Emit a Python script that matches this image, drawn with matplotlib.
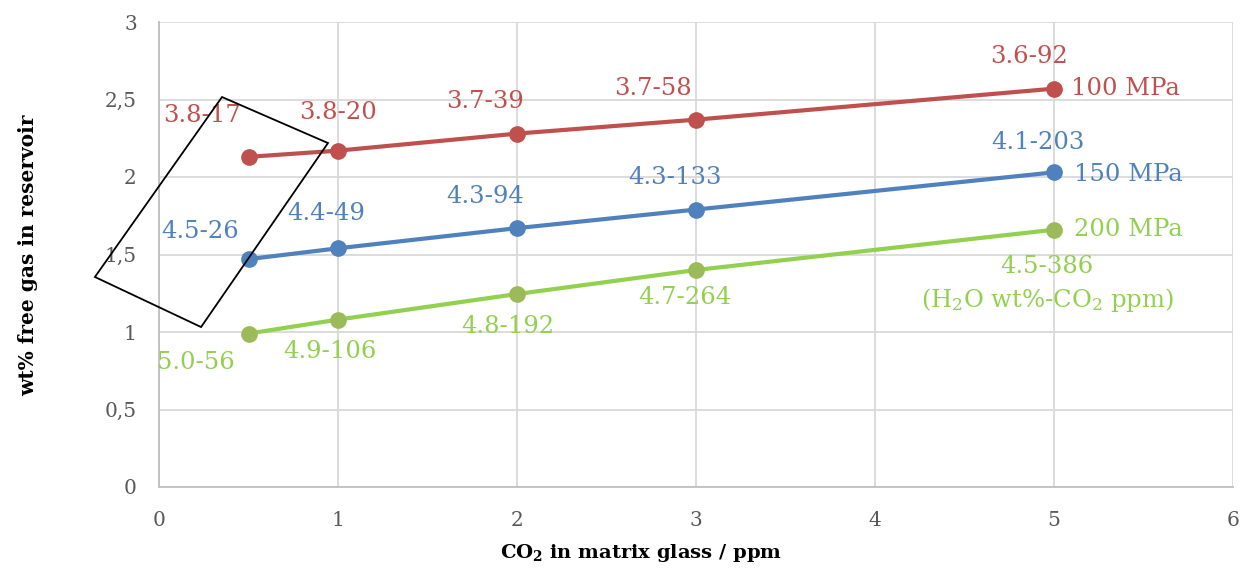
import matplotlib
matplotlib.use("Agg")
import matplotlib.pyplot as plt
from matplotlib.patches import Polygon

plt.rcParams['font.family'] = ['DejaVu Serif']
plt.rcParams['mathtext.fontset'] = 'dejavuserif'

x = [0.5, 1, 2, 3, 5]
y_100 = [2.13, 2.17, 2.28, 2.37, 2.57]
y_150 = [1.47, 1.54, 1.67, 1.79, 2.03]
y_200 = [0.99, 1.08, 1.245, 1.40, 1.66]

lab_100 = ["3.8-17", "3.8-20", "3.7-39", "3.7-58", "3.6-92"]
lab_150 = ["4.5-26", "4.4-49", "4.3-94", "4.3-133", "4.1-203"]
lab_200 = ["5.0-56", "4.9-106", "4.8-192", "4.7-264", "4.5-386"]

series_names = ["100 MPa", "150 MPa", "200 MPa"]
xticks = [0, 1, 2, 3, 4, 5, 6]
yticks = [0, 0.5, 1, 1.5, 2, 2.5, 3]
ytick_labels = ["0", "0,5", "1", "1,5", "2", "2,5", "3"]

# box corners (data coords)
box_x = [0.352, 0.944, 0.235, -0.358]
box_y = [2.516, 2.219, 1.032, 1.355]

RED = "#C0504D"
BLUE = "#4F81BD"
GREEN = "#92D050"
GREEN_M = "#9BBB59"

fig = plt.figure(figsize=(12.47, 5.69), dpi=100)
ax = fig.add_axes([159/1247, 1-487/569, (1233-159)/1247, (487-22)/569])
ax.set_xlim(0, 6)
ax.set_ylim(0, 3)

ax.grid(True, color="#D9D9D9", linewidth=1.3)
ax.set_axisbelow(True)
for s in ["top", "right"]:
    ax.spines[s].set_visible(False)
for s in ["left", "bottom"]:
    ax.spines[s].set_color("#BFBFBF")
    ax.spines[s].set_linewidth(1.3)
ax.tick_params(length=0, labelsize=14.5, labelcolor="#595959")
ax.tick_params(axis='x', pad=17)
ax.tick_params(axis='y', pad=16)
ax.set_xticks(xticks)
ax.set_yticks(yticks)
ax.set_yticklabels(ytick_labels)

ax.plot(x, y_100, color=RED, lw=3, marker="o", ms=11, mfc=RED, mec=RED, zorder=3, clip_on=False)
ax.plot(x, y_150, color=BLUE, lw=3, marker="o", ms=11, mfc=BLUE, mec=BLUE, zorder=3, clip_on=False)
ax.plot(x, y_200, color=GREEN, lw=3, marker="o", ms=11, mfc=GREEN_M, mec=GREEN_M, zorder=3, clip_on=False)

fs = 17.5
off_100 = [(-47, 41), (0, 38), (-32, 32), (-43, 31), (-25, 32)]
off_150 = [(-48, 28), (-12, 35), (-32, 32), (-21, 32), (-16, 30)]
off_200 = [(-53, -29), (-8, -32), (-9, -32), (-11, -28), (-7, -37)]
for ys, labs, offs, c in [(y_100, lab_100, off_100, RED), (y_150, lab_150, off_150, BLUE), (y_200, lab_200, off_200, GREEN)]:
    for xi, yi, l, o in zip(x, ys, labs, offs):
        ax.annotate(l, (xi, yi), xytext=o, textcoords="offset pixels",
                    ha="center", va="center", fontsize=fs, color=c, annotation_clip=False)

ax.annotate(series_names[0], (x[-1], y_100[-1]), xytext=(17, 0), textcoords="offset pixels",
            ha="left", va="center", fontsize=fs, color=RED)
ax.annotate(series_names[1], (x[-1], y_150[-1]), xytext=(20, -2), textcoords="offset pixels",
            ha="left", va="center", fontsize=fs, color=BLUE)
ax.annotate(series_names[2], (x[-1], y_200[-1]), xytext=(20, 0), textcoords="offset pixels",
            ha="left", va="center", fontsize=fs, color=GREEN)
ax.annotate(r"(H$_\mathrm{2}$O wt%-CO$_\mathrm{2}$ ppm)", (x[-1], y_200[-1]), xytext=(-7, -70),
            textcoords="offset pixels", ha="center", va="center", fontsize=fs, color=GREEN,
            annotation_clip=False)

poly = Polygon(list(zip(box_x, box_y)), closed=True, fill=False, edgecolor="black",
               linewidth=1.3, clip_on=False, zorder=4)
ax.add_patch(poly)

fig.text(641/1247, 1-553/569, r"$\mathbf{CO_2}$ in matrix glass / ppm", fontsize=14,
         fontweight="bold", ha="center", va="center")
fig.text(28/1247, 1-255/569, "wt% free gas in reservoir", fontsize=14.5,
         fontweight="bold", ha="center", va="center", rotation=90)

fig.savefig("out.png", dpi=100)
